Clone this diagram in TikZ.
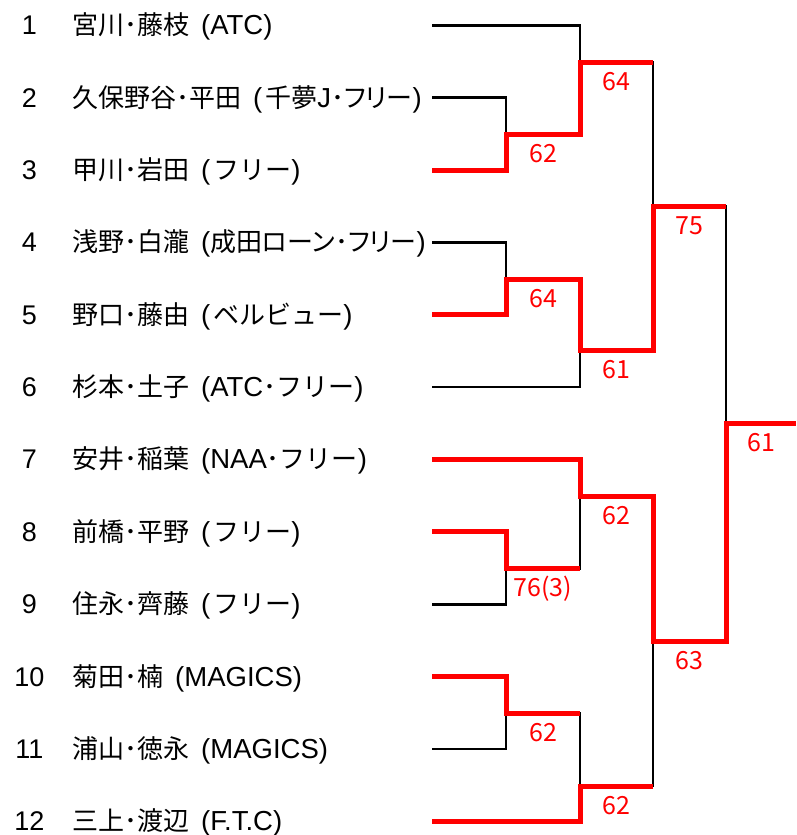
\documentclass[tikz,border=0pt]{standalone}
\usepackage{fontspec}
\setmainfont{Noto Sans CJK JP}
\newfontfamily\latin{Liberation Sans}
\newfontfamily\kana{Noto Sans CJK JP}[RawFeature=+palt]
\newcommand\lat[1]{{\latin\fontsize{27.5}{32}\selectfont#1}}
\newcommand\gap{\hspace{12pt}}
\definecolor{winred}{RGB}{255,0,0}
\tikzset{
  wire/.style={black,line width=2.7pt},
  winwire/.style={winred,line width=5pt},
  seed/.style={anchor=base,inner sep=0pt,font=\latin\fontsize{27}{32}\selectfont},
  pair/.style={anchor=base west,inner sep=0pt,font=\fontsize{26}{31}\selectfont},
  score/.style={anchor=base,inner sep=0pt,text=winred,font=\fontsize{25}{30}\selectfont},
}
\begin{document}
\begin{tikzpicture}[x=1pt,y=-1pt]
                \useasboundingbox (0,0) rectangle (796,835);
                % players
                \foreach \n/\name in {1/{宮川･藤枝\gap\lat{(ATC)}},
                    2/{久保野谷･平田\gap\lat{(}\kern3pt 千夢\lat{J}･{\kana フリー}\lat{)}},
                    3/{甲川･岩田\gap\lat{(}\kern3pt フリー\lat{)}},
                    4/{浅野･白瀧\gap\lat{(}成田{\kana ローン･フリー}\lat{)}},
                    5/{野口･藤由\gap\lat{(}\kern3pt ベルビュー\lat{)}},
                    6/{杉本･土子\gap\lat{(ATC}･フリー\lat{)}},
                    7/{安井･稲葉\gap\lat{(NAA}･フリー\lat{)}},
                    8/{前橋･平野\gap\lat{(}\kern3pt フリー\lat{)}},
                    9/{住永･齊藤\gap\lat{(}\kern3pt フリー\lat{)}},
                    10/{菊田･楠\gap\lat{(MAGICS)}},
                    11/{浦山･徳永\gap\lat{(MAGICS)}},
                    12/{三上･渡辺\gap\lat{(F.T.C)}}}{
                    \pgfmathsetmacro\y{25.3+(\n-1)*72.36}
                    \node[seed] (n\n) at (29.5,\y+9.5) {\n};
                    \node[pair] (p\n) at (72,\y+9.5) {\name};
                    \coordinate (e\n) at (432,\y);
                }
                % match points
                \coordinate (m23) at (506,134.7);
                \coordinate (m45) at (506,279.3);
                \coordinate (m89) at (506,568.7);
                \coordinate (m1011) at (506,713.3);
                \coordinate (m1) at (580,62);
                \coordinate (m2) at (580,350.7);
                \coordinate (m3) at (580,496.7);
                \coordinate (m4) at (580,786);
                \coordinate (s1) at (653,206.7);
                \coordinate (s2) at (653,641.3);
                \coordinate (f) at (726,423.3);
                \coordinate (w) at (796,423.3);
                % bracket
                \draw[wire] (e1) -| (m1);
                \draw[wire] (e2) -| (m23);
                \draw[wire] (e3) -| (m23);
                \draw[wire] (m23) -| (m1);
                \draw[wire] (e4) -| (m45);
                \draw[wire] (e5) -| (m45);
                \draw[wire] (m45) -| (m2);
                \draw[wire] (e6) -| (m2);
                \draw[wire] (m1) -| (s1);
                \draw[wire] (m2) -| (s1);
                \draw[wire] (e7) -| (m3);
                \draw[wire] (e8) -| (m89);
                \draw[wire] (e9) -| (m89);
                \draw[wire] (m89) -| (m3);
                \draw[wire] (e10) -| (m1011);
                \draw[wire] (e11) -| (m1011);
                \draw[wire] (m1011) -| (m4);
                \draw[wire] (e12) -| (m4);
                \draw[wire] (m3) -| (s2);
                \draw[wire] (m4) -| (s2);
                \draw[wire] (s1) -| (f);
                \draw[wire] (s2) -| (f);
                \draw[wire] (f) -- (w);
                % winners
                \draw[winwire] (e3) -| (m23) -| (m1) -- (m1 -| s1);
                \draw[winwire] (e5) -| (m45) -| (m2) -| (s1) -- (s1 -| f);
                \draw[winwire] (e7) -| (m3) -| (s2) -| (f) -- (w);
                \draw[winwire] (e8) -| (m89) -- (m89 -| m3);
                \draw[winwire] (e10) -| (m1011) -- (m1011 -| m4);
                \draw[winwire] (e12) -| (m4) -- (m4 -| s2);
                % scores
                \node[score] (sc23) at (543,162.7) {62};
                \node[score] (sc1) at (616.5,90) {64};
                \node[score] (sc45) at (543,307.3) {64};
                \node[score] (sc2) at (616.5,378.7) {61};
                \node[score] (scs1) at (689.5,234.7) {75};
                \node[score] (scf) at (761,451.3) {61};
                \node[score] (sc3) at (616.5,524.7) {62};
                \node[score] (sc89) at (543,596.7) {76(3)};
                \node[score] (scs2) at (689.5,669.3) {63};
                \node[score] (sc1011) at (543,741.3) {62};
                \node[score] (sc4) at (616.5,814) {62};
            \end{tikzpicture}
\end{document}
